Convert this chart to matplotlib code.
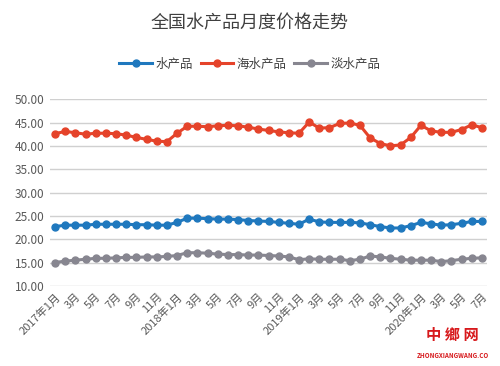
import matplotlib
matplotlib.use('Agg')
import matplotlib.pyplot as plt

# Monthly national aquatic product prices, 2017-01 .. 2020-07
months = ['2017年1月', '2月', '3月', '4月', '5月', '6月', '7月', '8月', '9月', '10月', '11月', '12月',
          '2018年1月', '2月', '3月', '4月', '5月', '6月', '7月', '8月', '9月', '10月', '11月', '12月',
          '2019年1月', '2月', '3月', '4月', '5月', '6月', '7月', '8月', '9月', '10月', '11月', '12月',
          '2020年1月', '2月', '3月', '4月', '5月', '6月', '7月']

aquatic = [22.7, 23.0, 23.0, 23.0, 23.2, 23.2, 23.2, 23.2, 23.1, 23.1, 23.0, 23.0,
           23.6, 24.5, 24.5, 24.4, 24.3, 24.3, 24.2, 24.0, 23.9, 23.8, 23.6, 23.4,
           23.2, 24.3, 23.7, 23.6, 23.6, 23.6, 23.5, 23.1, 22.7, 22.4, 22.4, 22.9,
           23.6, 23.3, 23.0, 23.1, 23.4, 23.8, 23.8]

marine = [42.6, 43.1, 42.8, 42.5, 42.7, 42.7, 42.6, 42.3, 41.8, 41.4, 41.0, 40.9,
          42.7, 44.2, 44.2, 44.1, 44.3, 44.4, 44.3, 44.0, 43.6, 43.3, 43.0, 42.8,
          42.7, 45.1, 43.8, 43.9, 44.8, 44.9, 44.4, 41.7, 40.5, 40.0, 40.2, 41.8,
          44.4, 43.2, 42.9, 42.9, 43.5, 44.5, 43.9]

freshwater = [15.0, 15.3, 15.5, 15.7, 15.9, 15.9, 16.0, 16.1, 16.1, 16.2, 16.2, 16.3,
              16.5, 17.1, 17.1, 17.0, 16.8, 16.7, 16.7, 16.6, 16.6, 16.5, 16.4, 16.2,
              15.6, 15.8, 15.7, 15.7, 15.7, 15.4, 15.7, 16.4, 16.2, 15.9, 15.7, 15.5,
              15.5, 15.5, 15.2, 15.4, 15.7, 15.9, 16.0]

series = [('水产品', aquatic, '#1F78BE'),
          ('海水产品', marine, '#E5432A'),
          ('淡水产品', freshwater, '#878690')]

plt.rcParams['font.family'] = ['Noto Sans CJK SC', 'DejaVu Sans']

fig = plt.figure(figsize=(5.0, 3.66), dpi=100)
ax = fig.add_axes([0.1, 0.219, 0.874, 0.51])

x = list(range(len(months)))
for name, vals, col in series:
    ax.plot(x, vals, color=col, lw=2.2, marker='o', markersize=5, label=name)

ax.set_ylim(10, 50)
ax.set_xlim(-0.5, len(months) - 0.5)
ax.set_yticks([10, 15, 20, 25, 30, 35, 40, 45, 50])
ax.set_yticklabels(['%.2f' % v for v in ax.get_yticks()], fontsize=8.5, color='#595959')
ax.set_xticks(x[::2])
ax.set_xticklabels(months[::2], rotation=45, ha='right', rotation_mode='anchor',
                   fontsize=8, color='#595959')
ax.tick_params(length=0, pad=4)
ax.grid(axis='y', color='#d0d0d0', lw=1)
ax.set_axisbelow(True)
for s in ax.spines.values():
    s.set_visible(False)

fig.text(0.5, 0.935, '全国水产品月度价格走势', ha='center', va='center',
         fontsize=13, color='#404040')
fig.legend(loc='center', bbox_to_anchor=(0.5, 0.825), ncol=3, frameon=False,
           fontsize=9, handlelength=2.6, columnspacing=0.6, handletextpad=0.3,
           labelcolor='#404040')

# watermark in the bottom right corner
fig.text(0.905, 0.085, '中 鄉 网', ha='center', va='center', fontsize=11,
         color='#D7191C', fontweight='bold', family=['Noto Sans CJK TC', 'DejaVu Sans'])
fig.text(0.905, 0.03, 'ZHONGXIANGWANG.CO', ha='center', va='center', fontsize=4.5,
         color='#D7191C', fontweight='bold')

fig.savefig('out.png', dpi=100)
